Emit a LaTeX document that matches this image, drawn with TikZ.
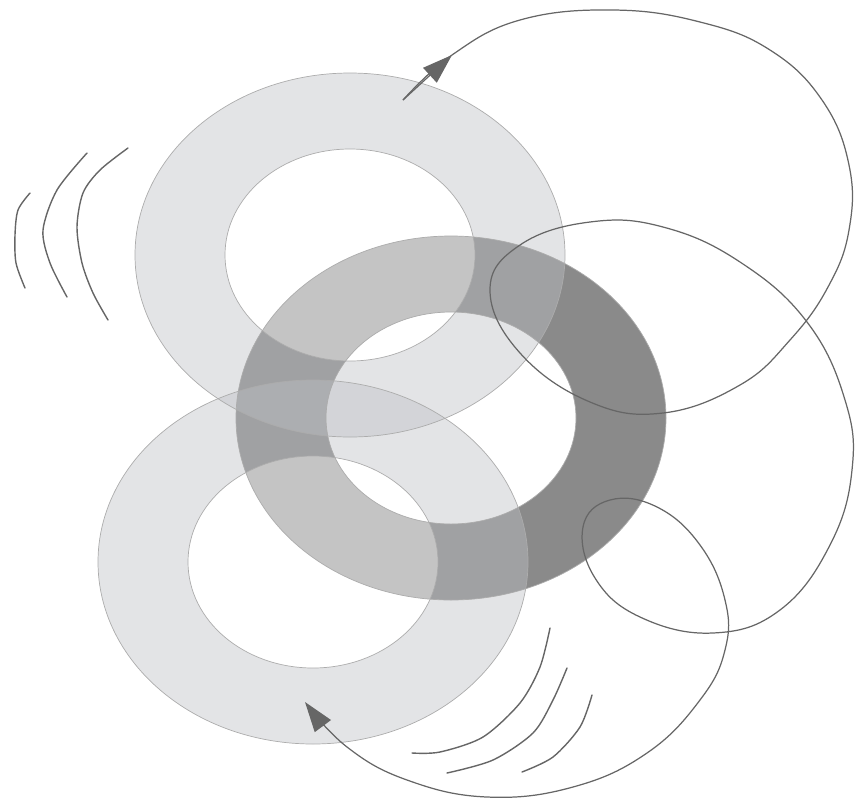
\documentclass[tikz,border=0pt]{standalone}
\usetikzlibrary{arrows.meta}
\definecolor{ringdark}{gray}{0.54}
\definecolor{ringlight}{RGB}{190,192,197}
\definecolor{lineink}{gray}{0.40}
\tikzset{
  rimout/.style    = {x radius=215, y radius=182},
  rimin/.style     = {x radius=125, y radius=106},
  darkring/.style  = {fill=ringdark, even odd rule},
  lightring/.style = {fill=ringlight, fill opacity=0.43, even odd rule},
  holeveil/.style  = {fill=white, fill opacity=0.5},
  ringedge/.style  = {draw=gray!65, line width=0.4pt},
  flowline/.style  = {draw=lineink, line width=0.7pt},
  waveline/.style  = {draw=lineink, line width=0.8pt, line cap=round},
  headtip/.style   = {-{Triangle[length=0.6cm, width=0.4cm]}, lineink},
}

\begin{document}
\begin{tikzpicture}[x=0.02cm, y=-0.02cm]
  \useasboundingbox (0,0) rectangle (862,802);

  %% ring centres
  \coordinate (top) at (350,255);
  \coordinate (mid) at (451,418);
  \coordinate (bot) at (313,562);

  %% dark ring underneath
  \fill[darkring] (mid) ellipse [rimout] (mid) ellipse [rimin];

  %% light rings laid over it
  \fill[lightring] (top) ellipse [rimout] (top) ellipse [rimin];
  \fill[holeveil]  (top) ellipse [rimin];
  \fill[lightring] (bot) ellipse [rimout] (bot) ellipse [rimin];
  \fill[holeveil]  (bot) ellipse [rimin];

  %% ring rims
  \foreach \c in {mid, top, bot}{
    \draw[ringedge] (\c) ellipse [rimout];
    \draw[ringedge] (\c) ellipse [rimin];
  }

  %% looping line
  \coordinate (start) at (403,100);
  \coordinate (midtip) at (452,55);
  \draw[flowline, headtip]
    plot[smooth, tension=0.7] coordinates {
      (start) (midtip) (520,20) (613,10) (700,22) (770,50) (822,100)
      (849,165) (849,230) (828,287) (790,340) (740,385) (663,413) (590,402)
      (520,353) (490,290) (520,245) (590,222) (663,227) (740,262) (807,322)
      (845,400) (852,470) (830,545) (780,610) (713,633) (640,617) (595,578)
      (583,527) (610,500) (657,507) (700,545) (725,600) (725,650) (700,700)
      (647,753) (573,787) (487,797) (407,780) (347,747) (305,702)};
  \draw[flowline, headtip] (start) -- (midtip);

  %% waves on the left
  \draw[waveline] plot[smooth] coordinates {(30,193) (18,210) (15,235) (16,263) (25,288)};
  \draw[waveline] plot[smooth] coordinates {(87,153) (57,190) (43,230) (50,263) (67,297)};
  \draw[waveline] plot[smooth] coordinates {(128,148) (100,170) (83,193) (77,227) (82,263) (93,293) (108,320)};

  %% waves at the bottom
  \draw[waveline] plot[smooth] coordinates {(550,628) (540,667) (520,703) (483,737) (440,752) (412,753)};
  \draw[waveline] plot[smooth] coordinates {(567,668) (553,700) (533,733) (493,760) (447,773)};
  \draw[waveline] plot[smooth] coordinates {(592,695) (580,727) (553,757) (522,772)};
\end{tikzpicture}
\end{document}
